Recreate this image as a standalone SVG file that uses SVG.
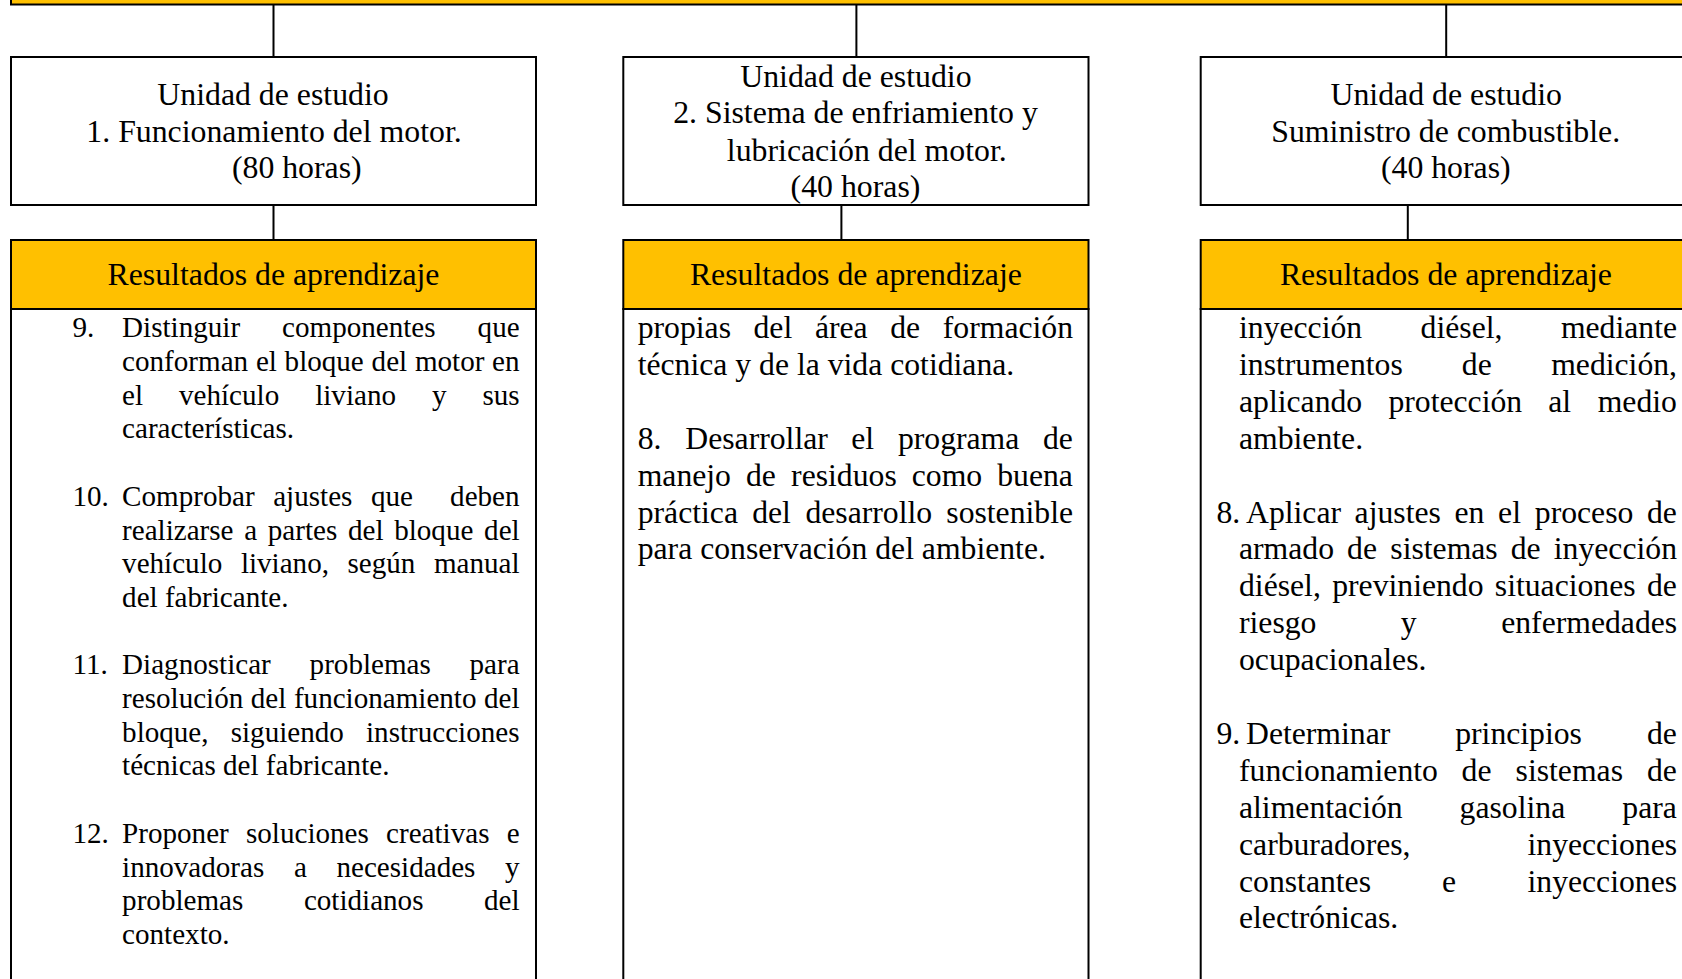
<svg xmlns="http://www.w3.org/2000/svg" width="1682" height="979" viewBox="0 0 1682 979">
<style>
  .box{fill:#ffffff;stroke:#000000;stroke-width:2}
  .hdr{fill:#FFC000;stroke:#000000;stroke-width:2}
  .ln{stroke:#000000;stroke-width:2;fill:none}
  text{font-family:"Liberation Serif","Times New Roman",serif;fill:#000000}
  .t{font-size:31.8px;text-anchor:middle}
  .b1{font-size:29.1px}
  .b2{font-size:31.7px}
</style>
<rect x="0" y="0" width="1682" height="979" fill="#ffffff"/>

<!-- parent bar, only its lower edge is in view -->
<g id="parent">
  <rect class="hdr" x="11" y="-40" width="1700" height="44.5"/>
</g>

<!-- connectors -->
<g id="connectors">
  <path class="ln" d="M273.5 4.5V57 M856.4 4.5V57 M1446.2 4.5V57 M273.5 205V240 M841.4 205V240 M1407.8 205V240"/>
</g>

<!-- study unit 1 -->
<g id="unit1">
  <rect class="box" x="11" y="57" width="525" height="148"/>
  <text class="t" x="273" y="105">Unidad de estudio</text>
  <text class="t" x="274" y="141.7">1. Funcionamiento del motor.</text>
  <text class="t" x="296.8" y="178.3">(80 horas)</text>
</g>
<g id="results1">
  <rect class="box" x="11" y="309" width="525" height="700"/>
  <rect class="hdr" x="11" y="240" width="525" height="69"/>
  <text class="t" x="273.5" y="285">Resultados de aprendizaje</text>
  <g class="b1" transform="translate(0,2)">
    <text y="335.3"><tspan x="72.5">9.</tspan><tspan x="122.1">Distinguir</tspan><tspan x="282.1">componentes</tspan><tspan x="477.6">que</tspan></text>
    <text y="369"><tspan x="122.1">conforman</tspan><tspan x="255.9">el</tspan><tspan x="284.6">bloque</tspan><tspan x="371.6">del</tspan><tspan x="414.9">motor</tspan><tspan x="492.1">en</tspan></text>
    <text y="402.7"><tspan x="122.1">el</tspan><tspan x="179">vehículo</tspan><tspan x="315.2">liviano</tspan><tspan x="431.9">y</tspan><tspan x="482.4">sus</tspan></text>
    <text y="436.4" x="122.1">características.</text>

    <text y="503.8"><tspan x="72.5">10.</tspan><tspan x="122.1">Comprobar</tspan><tspan x="273.2">ajustes</tspan><tspan x="371">que</tspan><tspan x="450.1">deben</tspan></text>
    <text y="537.5"><tspan x="122.1">realizarse</tspan><tspan x="244.2">a</tspan><tspan x="267.8">partes</tspan><tspan x="348">del</tspan><tspan x="394.2">bloque</tspan><tspan x="484.1">del</tspan></text>
    <text y="571.2"><tspan x="122.1">vehículo</tspan><tspan x="240.9">liviano,</tspan><tspan x="347.5">según</tspan><tspan x="433.9">manual</tspan></text>
    <text y="604.9" x="122.1">del fabricante.</text>

    <text y="672.3"><tspan x="72.5">11.</tspan><tspan x="122.1">Diagnosticar</tspan><tspan x="309.6">problemas</tspan><tspan x="469.5">para</tspan></text>
    <text y="706"><tspan x="122.1">resolución</tspan><tspan x="250.8">del</tspan><tspan x="293.9">funcionamiento</tspan><tspan x="484">del</tspan></text>
    <text y="739.7"><tspan x="122.1">bloque,</tspan><tspan x="230.7">siguiendo</tspan><tspan x="366">instrucciones</tspan></text>
    <text y="773.4" x="122.1">técnicas del fabricante.</text>

    <text y="840.8"><tspan x="72.5">12.</tspan><tspan x="122.1">Proponer</tspan><tspan x="246">soluciones</tspan><tspan x="386.1">creativas</tspan><tspan x="506.7">e</tspan></text>
    <text y="874.5"><tspan x="122.1">innovadoras</tspan><tspan x="293.9">a</tspan><tspan x="336.5">necesidades</tspan><tspan x="505">y</tspan></text>
    <text y="908.2"><tspan x="122.1">problemas</tspan><tspan x="303.9">cotidianos</tspan><tspan x="484">del</tspan></text>
    <text y="941.9" x="122.1">contexto.</text>
  </g>
</g>

<!-- study unit 2 -->
<g id="unit2">
  <rect class="box" x="623.3" y="57" width="465.2" height="148"/>
  <text class="t" x="855.9" y="86.8">Unidad de estudio</text>
  <text class="t" x="855.5" y="123.4">2. Sistema de enfriamiento y</text>
  <text class="t" x="866.8" y="160.6">lubricación del motor.</text>
  <text class="t" x="855.5" y="197.2">(40 horas)</text>
</g>
<g id="results2">
  <rect class="box" x="623.3" y="309" width="465.2" height="700"/>
  <rect class="hdr" x="623.3" y="240" width="465.2" height="69"/>
  <text class="t" x="855.9" y="285">Resultados de aprendizaje</text>
  <g class="b2" transform="translate(0,2)">
    <text y="336"><tspan x="637.7">propias</tspan><tspan x="753.5">del</tspan><tspan x="814.9">área</tspan><tspan x="890.2">de</tspan><tspan x="942.8">formación</tspan></text>
    <text y="372.9" x="637.7">técnica y de la vida cotidiana.</text>
    <text y="446.7"><tspan x="637.7">8.</tspan><tspan x="685.3">Desarrollar</tspan><tspan x="851.3">el</tspan><tspan x="897.9">programa</tspan><tspan x="1042.9">de</tspan></text>
    <text y="483.6"><tspan x="637.7">manejo</tspan><tspan x="746">de</tspan><tspan x="791.1">residuos</tspan><tspan x="911.8">como</tspan><tspan x="997.2">buena</tspan></text>
    <text y="520.5"><tspan x="637.7">práctica</tspan><tspan x="752.2">del</tspan><tspan x="805.4">desarrollo</tspan><tspan x="946.3">sostenible</tspan></text>
    <text y="557.4" x="637.7">para conservación del ambiente.</text>
  </g>
</g>

<!-- study unit 3 -->
<g id="unit3">
  <rect class="box" x="1200.7" y="57" width="491" height="148"/>
  <text class="t" x="1446.2" y="105">Unidad de estudio</text>
  <text class="t" x="1445.7" y="141.7">Suministro de combustible.</text>
  <text class="t" x="1445.8" y="178.3">(40 horas)</text>
</g>
<g id="results3">
  <rect class="box" x="1200.7" y="309" width="491" height="700"/>
  <rect class="hdr" x="1200.7" y="240" width="491" height="69"/>
  <text class="t" x="1445.9" y="285">Resultados de aprendizaje</text>
  <g class="b2" transform="translate(0,2)">
    <text y="336"><tspan x="1239">inyección</tspan><tspan x="1420.6">diésel,</tspan><tspan x="1560.9">mediante</tspan></text>
    <text y="372.9"><tspan x="1239">instrumentos</tspan><tspan x="1461.8">de</tspan><tspan x="1551.2">medición,</tspan></text>
    <text y="409.8"><tspan x="1239">aplicando</tspan><tspan x="1388.4">protección</tspan><tspan x="1548.3">al</tspan><tspan x="1597.7">medio</tspan></text>
    <text y="446.7" x="1239">ambiente.</text>

    <text y="520.5"><tspan x="1216.5">8.</tspan><tspan x="1246">Aplicar</tspan><tspan x="1354.6">ajustes</tspan><tspan x="1454.5">en</tspan><tspan x="1498.1">el</tspan><tspan x="1534.8">proceso</tspan><tspan x="1646.9">de</tspan></text>
    <text y="557.4"><tspan x="1239">armado</tspan><tspan x="1347.1">de</tspan><tspan x="1390.3">sistemas</tspan><tspan x="1510.7">de</tspan><tspan x="1553.8">inyección</tspan></text>
    <text y="594.3"><tspan x="1239">diésel,</tspan><tspan x="1332.2">previniendo</tspan><tspan x="1494.8">situaciones</tspan><tspan x="1646.9">de</tspan></text>
    <text y="631.2"><tspan x="1239">riesgo</tspan><tspan x="1400.8">y</tspan><tspan x="1501.2">enfermedades</tspan></text>
    <text y="668.1" x="1239">ocupacionales.</text>

    <text y="741.9"><tspan x="1216.5">9.</tspan><tspan x="1246">Determinar</tspan><tspan x="1455.2">principios</tspan><tspan x="1646.9">de</tspan></text>
    <text y="778.8"><tspan x="1239">funcionamiento</tspan><tspan x="1461.6">de</tspan><tspan x="1515.6">sistemas</tspan><tspan x="1646.9">de</tspan></text>
    <text y="815.7"><tspan x="1239">alimentación</tspan><tspan x="1459.6">gasolina</tspan><tspan x="1622.3">para</tspan></text>
    <text y="852.6"><tspan x="1239">carburadores,</tspan><tspan x="1527.5">inyecciones</tspan></text>
    <text y="889.5"><tspan x="1239">constantes</tspan><tspan x="1442.1">e</tspan><tspan x="1527.5">inyecciones</tspan></text>
    <text y="926.4" x="1239">electrónicas.</text>
  </g>
</g>
</svg>
